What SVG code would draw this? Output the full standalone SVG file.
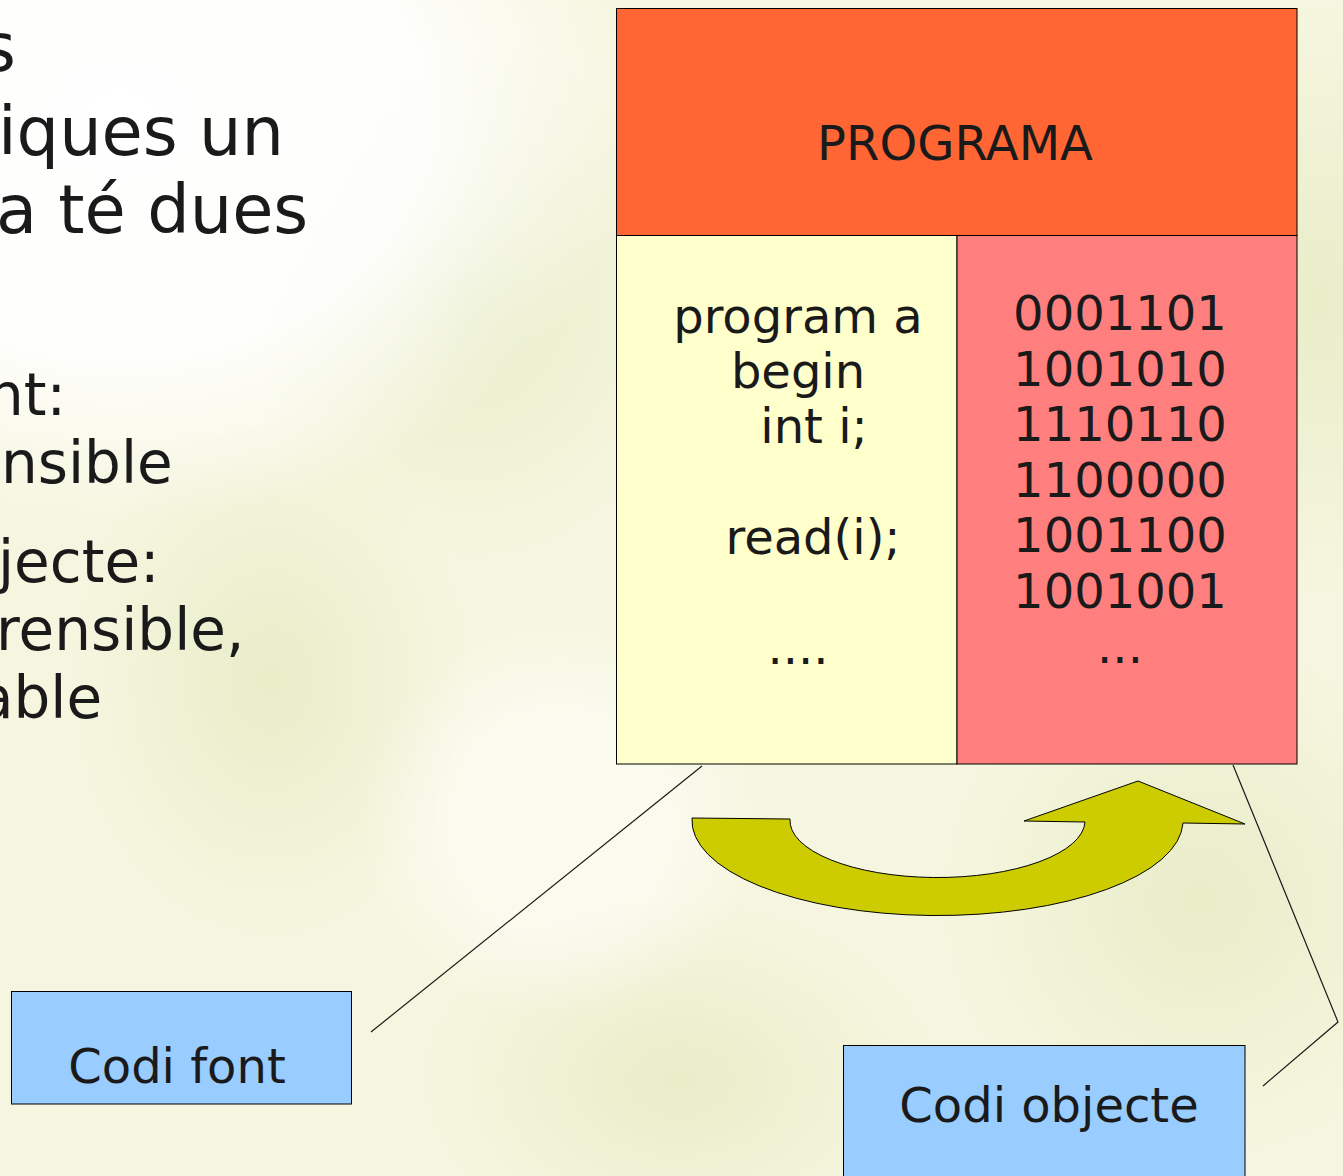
<svg xmlns="http://www.w3.org/2000/svg" width="1343" height="1176" viewBox="0 0 1343 1176">
<defs>
<radialGradient id="wh" cx="0.5" cy="0.5" r="0.5"><stop offset="0" stop-color="#ffffff"/><stop offset="0.6" stop-color="#ffffff" stop-opacity="0.85"/><stop offset="1" stop-color="#ffffff" stop-opacity="0"/></radialGradient>
<radialGradient id="gr" cx="0.5" cy="0.5" r="0.5"><stop offset="0" stop-color="#e4eac0" stop-opacity="0.75"/><stop offset="1" stop-color="#e4eac0" stop-opacity="0"/></radialGradient>
<style>
.t{font-family:"DejaVu Sans","Liberation Sans",sans-serif;fill:#1a1a1a}
.big{font-size:67px}
.mid{font-size:58px}
.c{font-size:48px}
.box{stroke:#000;stroke-width:1}
.ln{fill:none;stroke:#1a1a1a;stroke-width:1.2}
</style>
</defs>
<rect width="1343" height="1176" fill="#f6f6e0"/>
<ellipse cx="470" cy="300" rx="230" ry="260" fill="url(#gr)"/>
<ellipse cx="270" cy="680" rx="200" ry="260" fill="url(#gr)"/>
<ellipse cx="1320" cy="300" rx="160" ry="300" fill="url(#gr)"/>
<ellipse cx="1200" cy="900" rx="260" ry="260" fill="url(#gr)"/>
<ellipse cx="680" cy="1080" rx="260" ry="180" fill="url(#gr)"/>
<ellipse cx="120" cy="120" rx="520" ry="400" fill="url(#wh)"/>
<ellipse cx="560" cy="820" rx="200" ry="200" fill="url(#wh)" opacity="0.5"/>

<g id="bodytext">
<text class="t big" x="-19" y="71">s</text>
<text class="t big" x="-2" y="155">iques un</text>
<text class="t big" x="-4" y="233">a té dues</text>
<text class="t mid" x="-13" y="415">nt:</text>
<text class="t mid" x="1" y="483">nsible</text>
<text class="t mid" x="-2" y="582">jecte:</text>
<text class="t mid" x="-4" y="650">rensible,</text>
<text class="t mid" x="-22" y="718">able</text>
</g>

<g id="connectors">
<line class="ln" x1="702" y1="766" x2="371" y2="1032"/>
<polyline class="ln" points="1233,765 1338,1022 1263,1086"/>
</g>

<g id="programa">
<rect class="box" x="616.5" y="8.5" width="680.5" height="227" fill="#ff6633"/>
<text class="t c" x="955" y="160" text-anchor="middle">PROGRAMA</text>
</g>

<g id="codi-font-panel">
<rect class="box" x="616.5" y="235.5" width="340.5" height="528.5" fill="#ffffcc"/>
<text class="t c" x="798" y="333" text-anchor="middle">program a</text>
<text class="t c" x="798" y="388" text-anchor="middle">begin</text>
<text class="t c" x="814" y="443" text-anchor="middle">int i;</text>
<text class="t c" x="813" y="554" text-anchor="middle">read(i);</text>
<text class="t c" x="798" y="664" text-anchor="middle">....</text>
</g>

<g id="codi-objecte-panel">
<rect class="box" x="957" y="235.5" width="340" height="528.5" fill="#ff7f7f"/>
<text class="t c" x="1120" y="330" text-anchor="middle">0001101</text>
<text class="t c" x="1120" y="386" text-anchor="middle">1001010</text>
<text class="t c" x="1120" y="441" text-anchor="middle">1110110</text>
<text class="t c" x="1120" y="497" text-anchor="middle">1100000</text>
<text class="t c" x="1120" y="552" text-anchor="middle">1001100</text>
<text class="t c" x="1120" y="608" text-anchor="middle">1001001</text>
<text class="t c" x="1120" y="663" text-anchor="middle">...</text>
</g>

<g id="arrow">
<path class="box" fill="#cccc00" d="M692,818 L790,819 A147.5 57 0 0 0 1085,822 L1024,821 L1138,781 L1245,824 L1183,823 A245.5 95 0 0 1 692,818 Z"/>
</g>

<g id="codi-font">
<rect class="box" x="11.5" y="991.5" width="340" height="112.5" fill="#99ccff"/>
<text class="t c" x="177" y="1083" text-anchor="middle">Codi font</text>
</g>

<g id="codi-objecte">
<rect class="box" x="843.5" y="1045.5" width="401.5" height="140" fill="#99ccff"/>
<text class="t c" x="1049" y="1122" text-anchor="middle">Codi objecte</text>
</g>
</svg>
